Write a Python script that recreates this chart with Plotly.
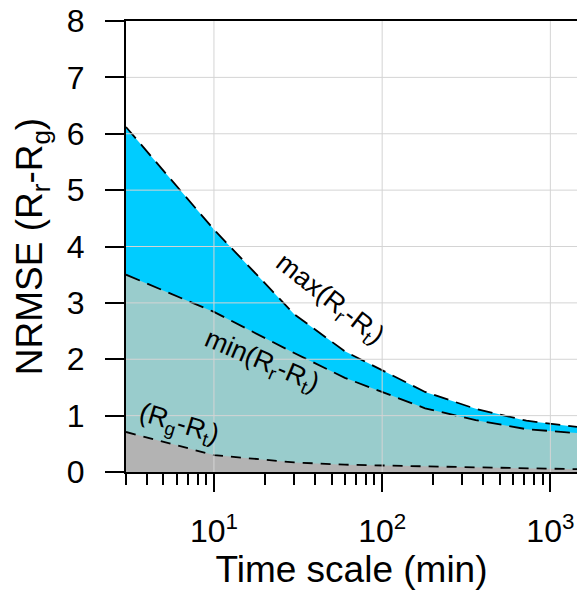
import numpy as np
import plotly.graph_objects as go

# Data
time_scale = [3, 10, 30, 60, 180, 360, 720, 1440]
max_rr_rt = [6.12, 4.30, 2.80, 2.14, 1.42, 1.12, 0.91, 0.80]
min_rr_rt = [3.50, 2.84, 2.11, 1.67, 1.13, 0.92, 0.76, 0.69]
rg_rt = [0.71, 0.30, 0.17, 0.13, 0.10, 0.08, 0.06, 0.05]

x_major = [10, 100, 1000]
x_major_text = ["10<sup>1</sup>", "10<sup>2</sup>", "10<sup>3</sup>"]
x_minor = [3, 4, 5, 6, 7, 8, 9, 20, 30, 40, 50, 60, 70, 80, 90,
           200, 300, 400, 500, 600, 700, 800, 900]
y_ticks = [0, 1, 2, 3, 4, 5, 6, 7, 8]

FONT = "Liberation Sans, Arial, sans-serif"
BLUE = "#00CCFF"
TEAL = "#99CCCC"
GRAY = "#B3B3B3"
GRID = "#D4D4D4"

fig = go.Figure()
fig.add_trace(go.Scatter(x=time_scale, y=max_rr_rt, mode="lines", fill="tozeroy",
                         fillcolor=BLUE, line=dict(color="black", width=1.8, dash="15px,8px"),
                         showlegend=False))
fig.add_trace(go.Scatter(x=time_scale, y=min_rr_rt, mode="lines", fill="tozeroy",
                         fillcolor=TEAL, line=dict(color="black", width=1.8, dash="15px,8px"),
                         showlegend=False))
fig.add_trace(go.Scatter(x=time_scale, y=rg_rt, mode="lines", fill="tozeroy",
                         fillcolor=GRAY, line=dict(color="black", width=1.8, dash="10px,8px"),
                         showlegend=False))

# gridlines drawn above the fills, as in the reference
shapes = []
for v in x_major:
    shapes.append(dict(type="line", xref="x", yref="paper", x0=v, x1=v, y0=0, y1=1,
                       line=dict(color=GRID, width=1), layer="above"))
for v in y_ticks[1:-1]:
    shapes.append(dict(type="line", xref="paper", yref="y", x0=0, x1=1, y0=v, y1=v,
                       line=dict(color=GRID, width=1), layer="above"))

fig.update_layout(
    width=577, height=590,
    margin=dict(l=126, r=0, t=21, b=118),
    paper_bgcolor="white", plot_bgcolor="white",
    font=dict(family=FONT, color="black"),
    shapes=shapes,
    xaxis=dict(
        type="log", range=[np.log10(3), np.log10(1440)],
        tickmode="array", tickvals=x_major, ticktext=x_major_text,
        ticks="outside", ticklen=18, tickwidth=2, tickcolor="black",
        tickfont=dict(size=32, family=FONT), ticklabelstandoff=12,
        showgrid=False, zeroline=False, automargin=False,
        showline=True, linecolor="black", linewidth=2, mirror=True,
        minor=dict(tickmode="array", tickvals=x_minor, ticks="outside", ticklen=11,
                   tickwidth=2, tickcolor="black", showgrid=False),
        title=dict(text="Time scale (min)", font=dict(size=37, family=FONT), standoff=14),
        layer="above traces",
    ),
    yaxis=dict(
        range=[0, 8], tickmode="array", tickvals=y_ticks,
        ticks="outside", ticklen=19, tickwidth=2, tickcolor="black",
        tickfont=dict(size=32, family=FONT), ticklabelstandoff=14,
        showgrid=False, zeroline=False, automargin=False,
        showline=True, linecolor="black", linewidth=2,
        title=dict(text="NRMSE (R<sub>r</sub>-R<sub>g</sub>)", font=dict(size=37, family=FONT), standoff=13),
        layer="above traces",
    ),
)

def px(xp):
    return (xp - 126) / 451.0

def py(yp):
    return (472 - yp) / 451.0

ann_font = dict(size=27, family=FONT, color="black")
fig.add_annotation(text="max(R<sub>r</sub>-R<sub>t</sub>)", xref="paper", yref="paper",
                   x=px(329), y=py(300), showarrow=False, textangle=38,
                   xanchor="center", yanchor="middle", font=ann_font)
fig.add_annotation(text="min(R<sub>r</sub>-R<sub>t</sub>)", xref="paper", yref="paper",
                   x=px(261), y=py(362), showarrow=False, textangle=23,
                   xanchor="center", yanchor="middle", font=ann_font)
fig.add_annotation(text="(R<sub>g</sub>-R<sub>t</sub>)", xref="paper", yref="paper",
                   x=px(179), y=py(425), showarrow=False, textangle=17,
                   xanchor="center", yanchor="middle", font=ann_font)

fig.write_html("out.html", config={"displayModeBar": False},
               post_script="document.body.style.margin='0px';")
